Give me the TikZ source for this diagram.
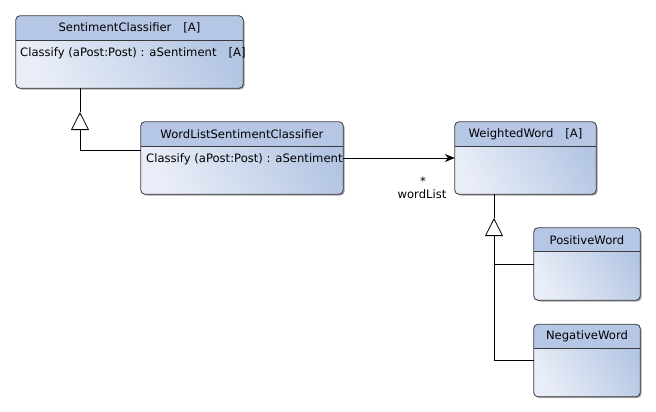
\documentclass[tikz,border=0pt]{standalone}
\usepackage{fontspec}
\setmainfont{DejaVu Sans}
\usetikzlibrary{shadows,arrows.meta,calc}
\definecolor{hdr}{HTML}{B6C7E6}
\definecolor{bodyA}{HTML}{E8EDF7}
\definecolor{bodyB}{HTML}{B3C5E3}
\definecolor{edge}{HTML}{3A3A3A}
\tikzset{
  classbox/.style={rounded corners=4pt, inner sep=0pt,
    top color=bodyA, bottom color=bodyB, shading angle=120,
    drop shadow={shadow xshift=1.5pt, shadow yshift=-1.5pt, opacity=0.35, fill=black}},
  txt/.style={font=\fontsize{11.6}{14}\selectfont, inner sep=0pt, text=black},
  conn/.style={draw=black, line width=0.8pt},
  genarrow/.style={conn, -{Triangle[open, length=18pt, width=18pt, line width=0.8pt]}},
  assoc/.style={conn, -{Stealth[length=10pt, width=8pt]}},
}
\newcommand\classhead[3]{%
  \begin{scope}
    \clip[rounded corners=4pt] (#1.north west) rectangle (#1.south east);
    \fill[hdr] (#1.north west) rectangle ($(#1.north east)+(0,#2)$);
  \end{scope}
  \draw[edge, line width=0.8pt] ($(#1.north west)+(0,#2)$) -- ($(#1.north east)+(0,#2)$);
  \draw[edge, line width=0.8pt, rounded corners=4pt] (#1.north west) rectangle (#1.south east);
  \node[txt] (#1-title) at ($(#1.north)+(0,#2/2)$) {#3};
}
\begin{document}
\begin{tikzpicture}[x=1pt, y=-1pt]
\useasboundingbox[fill=white] (0,0) rectangle (656,412);

\node[classbox, minimum width=227pt, minimum height=72pt] (sc) at (129.5,52) {};
\classhead{sc}{25}{SentimentClassifier\hspace{12pt}[A]}
\node[txt, anchor=west] (sc-op) at (20,53) {Classify (aPost:Post) : aSentiment\hspace{12pt}[A]};

\node[classbox, minimum width=202pt, minimum height=72pt] (wl) at (242,158) {};
\classhead{wl}{25}{WordListSentimentClassifier}
\node[txt, anchor=west] (wl-op) at (146,159) {Classify (aPost:Post) : aSentiment};

\node[classbox, minimum width=141pt, minimum height=72pt] (ww) at (525.5,158) {};
\classhead{ww}{25}{WeightedWord\hspace{12pt}[A]}

\node[classbox, minimum width=106pt, minimum height=72pt] (pw) at (587,264) {};
\classhead{pw}{24}{PositiveWord}

\node[classbox, minimum width=106pt, minimum height=72pt] (nw) at (587,360.5) {};
\classhead{nw}{24}{NegativeWord}

% generalization WordList -> Sentiment
\coordinate (g1tip) at (80,112);
\draw[genarrow] ($(wl.north west)+(0,29)$) -| (g1tip);
\draw[conn] (g1tip) -- (sc.south -| g1tip);

% generalization Positive/Negative -> Weighted
\coordinate (g2tip) at (494,218);
\draw[genarrow] (nw.west -| g2tip) -- (g2tip);
\draw[conn] (g2tip) -- (ww.south -| g2tip);
\draw[conn] (pw.west -| g2tip) -- (pw.west);
\draw[conn] (nw.west -| g2tip) -- (nw.west);

% association
\draw[assoc] (wl.east) -- (ww.west);
\node[txt] (mult) at (423,181) {*};
\node[txt] (role) at (422,194) {wordList};
\end{tikzpicture}
\end{document}
